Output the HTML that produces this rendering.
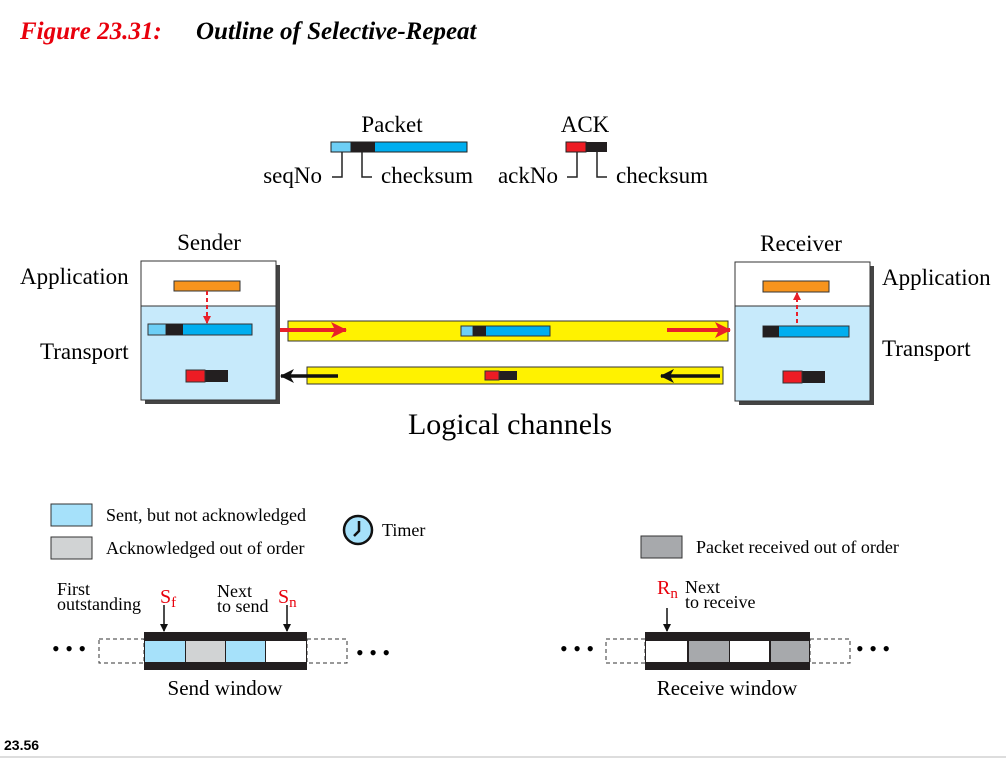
<!DOCTYPE html>
<html><head><style>
body{margin:0;background:#fff;}
svg{display:block;font-family:"Liberation Serif",serif;}
</style></head><body>
<svg width="1006" height="759" viewBox="0 0 1006 759" xmlns="http://www.w3.org/2000/svg">
<defs>
<marker id="ar" markerWidth="8" markerHeight="8" refX="7" refY="4" orient="auto" markerUnits="userSpaceOnUse"><path d="M0,0 L8,4 L0,8 z" fill="#e8202a"/></marker>
<marker id="arb" markerWidth="16" markerHeight="16" refX="15" refY="8" orient="auto" markerUnits="userSpaceOnUse"><path d="M0,0 L16,8 L0,16 L4,8 z" fill="#e8202a"/></marker>
<marker id="ab" markerWidth="8" markerHeight="8" refX="7" refY="4" orient="auto" markerUnits="userSpaceOnUse"><path d="M0,0 L8,4 L0,8 z" fill="#111"/></marker>
<marker id="abb" markerWidth="14" markerHeight="14" refX="13" refY="7" orient="auto" markerUnits="userSpaceOnUse"><path d="M0,0 L14,7 L0,14 L4,7 z" fill="#111"/></marker>
</defs>
<text x="20" y="39" font-size="25" font-weight="bold" font-style="italic" fill="#e8000c">Figure 23.31:</text>
<text x="196" y="39" font-size="25" font-weight="bold" font-style="italic" fill="#000">Outline of Selective-Repeat</text>

<text x="392" y="132" font-size="23" text-anchor="middle">Packet</text>
<rect x="331" y="142" width="136" height="10" fill="#00aeef" stroke="#222"/>
<rect x="331" y="142" width="20" height="10" fill="#6dcff6" stroke="#222"/>
<rect x="351" y="142" width="24" height="10" fill="#231f20"/>
<path d="M342 152 V177 H332 M362 152 V177 H372" stroke="#222" stroke-width="1.5" fill="none"/>
<text x="322" y="183" font-size="23" text-anchor="end">seqNo</text>
<text x="381" y="183" font-size="23">checksum</text>
<text x="585" y="132" font-size="23" text-anchor="middle">ACK</text>
<rect x="566" y="142" width="41" height="10" fill="#231f20"/>
<rect x="566" y="142" width="20" height="10" fill="#ed1c24" stroke="#222"/>
<path d="M577 152 V177 H567 M597 152 V177 H607" stroke="#222" stroke-width="1.5" fill="none"/>
<text x="558" y="183" font-size="23" text-anchor="end">ackNo</text>
<text x="616" y="183" font-size="23">checksum</text>

<text x="209" y="250" font-size="23" text-anchor="middle">Sender</text>
<text x="20" y="284" font-size="23">Application</text>
<text x="40" y="359" font-size="23">Transport</text>
<rect x="145" y="265" width="135" height="139" fill="#444"/>
<rect x="141" y="261" width="135" height="139" fill="#fff" stroke="#333"/>
<rect x="141" y="306" width="135" height="94" fill="#c7eafb" stroke="#333"/>
<rect x="174" y="281" width="66" height="10" fill="#f7941d" stroke="#333"/>
<line x1="207" y1="291" x2="207" y2="323" stroke="#e8202a" stroke-width="2" stroke-dasharray="4,3" marker-end="url(#ar)"/>
<rect x="148" y="324" width="104" height="11" fill="#00aeef" stroke="#333"/>
<rect x="148" y="324" width="18" height="11" fill="#6dcff6" stroke="#333"/>
<rect x="166" y="324" width="17" height="11" fill="#231f20"/>
<rect x="186" y="370" width="42" height="12" fill="#231f20"/>
<rect x="186" y="370" width="19" height="12" fill="#ed1c24" stroke="#333"/>

<text x="801" y="251" font-size="23" text-anchor="middle">Receiver</text>
<text x="882" y="285" font-size="23">Application</text>
<text x="882" y="356" font-size="23">Transport</text>
<rect x="739" y="266" width="135" height="139" fill="#444"/>
<rect x="735" y="262" width="135" height="139" fill="#fff" stroke="#333"/>
<rect x="735" y="306" width="135" height="95" fill="#c7eafb" stroke="#333"/>
<rect x="763" y="281" width="66" height="11" fill="#f7941d" stroke="#333"/>
<line x1="797" y1="323" x2="797" y2="293" stroke="#e8202a" stroke-width="2" stroke-dasharray="4,3" marker-end="url(#ar)"/>
<rect x="763" y="326" width="86" height="11" fill="#00aeef" stroke="#333"/>
<rect x="763" y="326" width="16" height="11" fill="#231f20"/>
<rect x="783" y="371" width="42" height="12" fill="#231f20"/>
<rect x="783" y="371" width="19" height="12" fill="#ed1c24" stroke="#333"/>

<rect x="288" y="321" width="440" height="20" fill="#fff200" stroke="#333"/>
<line x1="280" y1="330" x2="346" y2="330" stroke="#e8202a" stroke-width="4" marker-end="url(#arb)"/>
<line x1="667" y1="330" x2="730" y2="330" stroke="#e8202a" stroke-width="4" marker-end="url(#arb)"/>
<rect x="461" y="326" width="89" height="10" fill="#00aeef" stroke="#333"/>
<rect x="461" y="326" width="12" height="10" fill="#6dcff6" stroke="#333"/>
<rect x="473" y="326" width="13" height="10" fill="#231f20"/>
<rect x="307" y="367" width="416" height="17" fill="#fff200" stroke="#333"/>
<line x1="338" y1="376" x2="281" y2="376" stroke="#111" stroke-width="3.5" marker-end="url(#abb)"/>
<line x1="720" y1="376" x2="661" y2="376" stroke="#111" stroke-width="3.5" marker-end="url(#abb)"/>
<rect x="485" y="371" width="32" height="9" fill="#231f20"/>
<rect x="485" y="371" width="14" height="9" fill="#ed1c24" stroke="#333"/>
<text x="510" y="434" font-size="30" text-anchor="middle">Logical channels</text>

<rect x="51" y="504" width="41" height="22" fill="#a6e1fa" stroke="#333"/>
<text x="106" y="521" font-size="18">Sent, but not acknowledged</text>
<rect x="51" y="537" width="41" height="22" fill="#d1d3d4" stroke="#333"/>
<text x="106" y="554" font-size="18">Acknowledged out of order</text>
<circle cx="358" cy="530" r="14" fill="#a6e1fa" stroke="#111" stroke-width="2.5"/>
<path d="M359 521 V531 L354 536" stroke="#111" stroke-width="2.5" fill="none"/>
<text x="382" y="536" font-size="18">Timer</text>
<rect x="641" y="536" width="41" height="22" fill="#a7a9ac" stroke="#333"/>
<text x="696" y="553" font-size="18">Packet received out of order</text>

<text x="57" y="595" font-size="18">First</text>
<text x="57" y="610" font-size="18">outstanding</text>
<text x="160" y="603" font-size="20" fill="#e8000c">S<tspan font-size="15" dy="4">f</tspan></text>
<text x="217" y="597" font-size="18">Next</text>
<text x="217" y="612" font-size="18">to send</text>
<text x="278" y="603" font-size="20" fill="#e8000c">S<tspan font-size="15" dy="4">n</tspan></text>
<line x1="164" y1="605" x2="164" y2="631" stroke="#111" stroke-width="1.5" marker-end="url(#ab)"/>
<line x1="287" y1="605" x2="287" y2="631" stroke="#111" stroke-width="1.5" marker-end="url(#ab)"/>
<rect x="99" y="639" width="45" height="24" fill="none" stroke="#333" stroke-dasharray="4,3"/>
<rect x="307" y="639" width="40" height="24" fill="none" stroke="#333" stroke-dasharray="4,3"/>
<rect x="144" y="632" width="163" height="38" fill="#231f20"/>
<rect x="145" y="641" width="40" height="21" fill="#a6e1fa"/>
<rect x="186" y="641" width="39" height="21" fill="#d1d3d4"/>
<rect x="226" y="641" width="39" height="21" fill="#a6e1fa"/>
<rect x="266" y="641" width="40" height="21" fill="#fff"/>
<text x="52" y="656" font-size="22">• • •</text>
<text x="356" y="660" font-size="22">• • •</text>
<text x="225" y="695" font-size="21" text-anchor="middle">Send window</text>

<text x="657" y="594" font-size="20" fill="#e8000c">R<tspan font-size="15" dy="4">n</tspan></text>
<text x="685" y="593" font-size="18">Next</text>
<text x="685" y="608" font-size="18">to receive</text>
<line x1="667" y1="608" x2="667" y2="631" stroke="#111" stroke-width="1.5" marker-end="url(#ab)"/>
<rect x="606" y="639" width="39" height="24" fill="none" stroke="#333" stroke-dasharray="4,3"/>
<rect x="810" y="639" width="40" height="24" fill="none" stroke="#333" stroke-dasharray="4,3"/>
<rect x="645" y="632" width="165" height="38" fill="#231f20"/>
<rect x="646" y="641" width="41" height="21" fill="#fff"/>
<rect x="689" y="641" width="40" height="21" fill="#a7a9ac"/>
<rect x="730" y="641" width="39" height="21" fill="#fff"/>
<rect x="771" y="641" width="38" height="21" fill="#a7a9ac"/>
<text x="560" y="656" font-size="22">• • •</text>
<text x="856" y="656" font-size="22">• • •</text>
<text x="727" y="695" font-size="21" text-anchor="middle">Receive window</text>

<text x="4" y="750" font-size="14" font-weight="bold" font-family="Liberation Sans, sans-serif">23.56</text>
<line x1="0" y1="757" x2="1006" y2="757" stroke="#bbb"/>
</svg>
</body></html>
